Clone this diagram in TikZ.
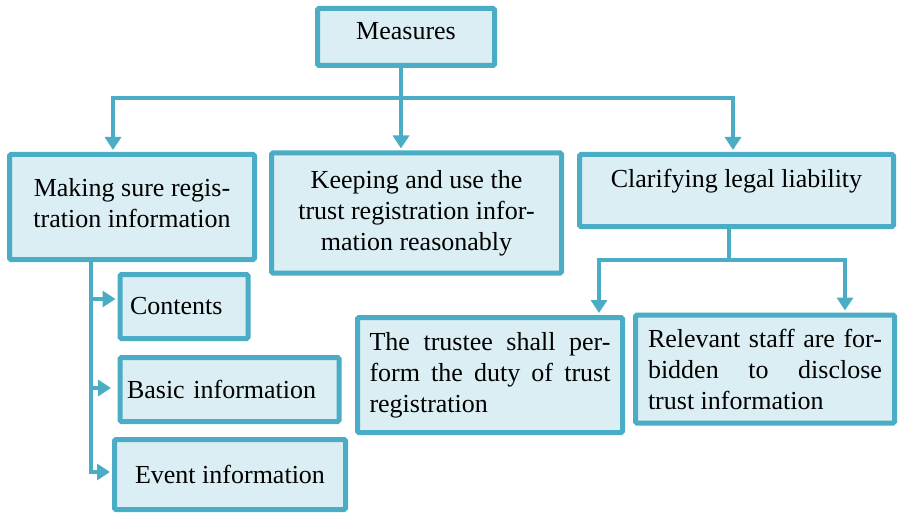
\documentclass[tikz,border=0pt]{standalone}
\usepackage{fontspec}
\setmainfont{Liberation Serif}
\usepackage{xcolor}
\usetikzlibrary{arrows.meta}
\definecolor{boxline}{HTML}{4BACC6}
\definecolor{boxfill}{HTML}{DAEEF3}

\begin{document}
\begin{tikzpicture}[x=1pt,y=-1pt,
   bluebox/.style={draw=boxline,fill=boxfill,line width=5pt,rounded corners=1.5pt,
      inner sep=0pt,font=\fontsize{26}{31}\selectfont},
   conn/.style={draw=boxline,line width=4pt},
   arr/.style={conn,-{Triangle[width=16pt,length=13pt]},shorten >=2pt}]
   \useasboundingbox (0,0) rectangle (899,513);
   \node[bluebox,minimum width=177pt,minimum height=57pt,text height=18pt,text depth=12pt] (meas) at (406,37) {Measures};
   \node[bluebox,minimum width=245pt,minimum height=105pt,align=center,text depth=9pt] (make) at (132,207)
      {Making sure regis-\\tration information};
   \node[bluebox,minimum width=290pt,minimum height=120pt,align=center] (keep) at (416.5,213)
      {Keeping and use the\\trust registration infor-\\mation reasonably};
   \node[bluebox,minimum width=314pt,minimum height=72pt,text height=18pt,text depth=23pt] (clar) at (736.5,190.5)
      {Clarifying legal liability};
   \node[bluebox,minimum width=127pt,minimum height=64pt,text width=108pt,inner xsep=10pt,align=left] (cont) at (184,306.5)
      {Contents};
   \node[bluebox,minimum width=218pt,minimum height=64pt,text width=205pt,inner xsep=7pt,align=left] (basic) at (229.5,389.5)
      {Basic information};
   \node[bluebox,minimum width=231pt,minimum height=70pt] (event) at (230,474.5)
      {Event information};
   \node[bluebox,minimum width=265pt,minimum height=115pt,text width=241pt,inner xsep=12pt,align=justify] (trust) at (490,375)
      {The trustee shall per-\linebreak form the duty of trust\linebreak registration};
   \node[bluebox,minimum width=259pt,minimum height=108pt,text width=234pt,inner xsep=12.5pt,align=justify] (staff) at (765,369)
      {Relevant staff are for-\linebreak bidden to disclose\linebreak trust information};
   % top level
   \coordinate (hub) at (401,98);
   \coordinate (dropL) at (113,0);
   \coordinate (dropR) at (733,0);
   \draw[arr] (meas.south -| hub) -- (hub |- keep.north);
   \draw[arr] (hub) -| (dropL |- make.north);
   \draw[arr] (hub) -| (dropR |- clar.north);
   % liability branch
   \coordinate (hubB) at (729,260);
   \draw[conn] (clar.south -| hubB) -- (hubB);
   \draw[arr] (hubB) -| (599,0 |- trust.north);
   \draw[arr] (hubB) -| (845,0 |- staff.north);
   % registration branch
   \coordinate (trunk) at (91,0);
   \draw[arr] (trunk |- make.south) |- (cont.west |- 0,299);
   \draw[arr,shorten >=6.5pt] (trunk |- make.south) |- (basic.west |- 0,388);
   \draw[arr] (trunk |- make.south) |- (event.west |- 0,472);
\end{tikzpicture}
\end{document}
